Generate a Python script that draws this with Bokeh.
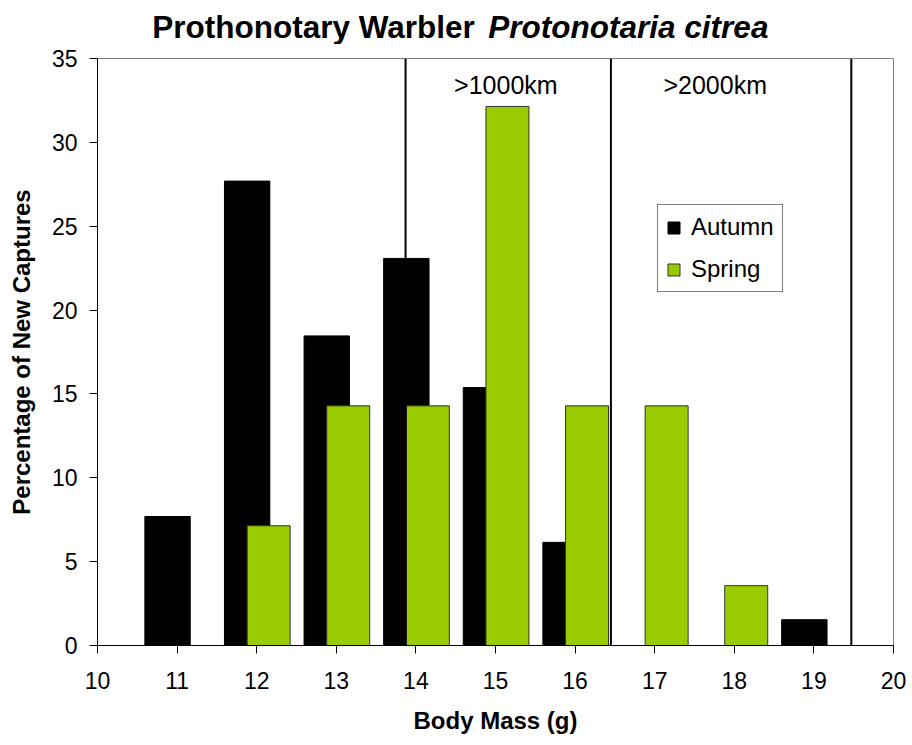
from bokeh.plotting import figure
from bokeh.layouts import column
from bokeh.models import ColumnDataSource, FixedTicker, Legend, LegendItem
from bokeh.transform import dodge
from bokeh.core.properties import value
from bokeh.embed import file_html
from bokeh.resources import INLINE

# ---- data ----
autumn_mass = [11, 12, 13, 14, 15, 16, 17, 18, 19]
autumn_pct = [7.69, 27.69, 18.46, 23.08, 15.38, 6.15, 0.0, 0.0, 1.54]
spring_mass = [12, 13, 14, 15, 16, 17, 18]
spring_pct = [7.14, 14.29, 14.29, 32.14, 14.29, 14.29, 3.57]
zone_bounds = [13.87, 16.45, 19.47]
zone_labels = [">1000km", ">2000km"]
zone_label_x = [15.13, 17.76]
zone_label_y = [33.4, 33.4]
x_ticks = [10, 11, 12, 13, 14, 15, 16, 17, 18, 19, 20]
y_ticks = [0, 5, 10, 15, 20, 25, 30, 35]
title_plain = "Prothonotary Warbler"
title_italic = "Protonotaria citrea"

FONT = "Liberation Sans"
GREEN = "#99CC00"
W = 906
LEFT, RIGHT = 97, 13
STRIP_H = 44

# ---- title strip (two font styles side by side) ----
t = figure(width=W, height=STRIP_H, x_range=(10, 20), y_range=(0, STRIP_H), title=None,
           output_backend="svg", toolbar_location=None,
           x_axis_type=None, y_axis_type=None,
           min_border_left=LEFT, min_border_right=RIGHT, min_border_top=0, min_border_bottom=0)
t.xgrid.visible = False
t.ygrid.visible = False
t.outline_line_color = None
t.text(x=[14.74], y=[18], text=[title_plain], text_align="right", text_baseline="alphabetic",
       text_font=value(FONT), text_font_size="31.5px", text_font_style="bold", text_color="black")
t.text(x=[14.91], y=[18], text=[title_italic], text_align="left", text_baseline="alphabetic",
       text_font=value(FONT), text_font_size="31.5px", text_font_style="bold italic", text_color="black")

# ---- main chart ----
p = figure(width=W, height=696, x_range=(10, 20), y_range=(0, 35),
           output_backend="svg", toolbar_location=None,
           min_border_left=LEFT, min_border_right=RIGHT, min_border_top=58 - STRIP_H, min_border_bottom=95)
p.xgrid.visible = False
p.ygrid.visible = False
p.outline_line_color = "#808080"
p.outline_line_width = 1
p.background_fill_color = "white"

a_src = ColumnDataSource(dict(x=autumn_mass, top=autumn_pct))
s_src = ColumnDataSource(dict(x=spring_mass, top=spring_pct))

ra = p.vbar(x=dodge("x", -0.12, range=p.x_range), top="top", bottom=0, width=0.57,
            source=a_src, fill_color="black", line_color="black", line_width=1)
rs = p.vbar(x=dodge("x", 0.15, range=p.x_range), top="top", bottom=0, width=0.54,
            source=s_src, fill_color=GREEN, line_color="#333333", line_width=1)

z_src = ColumnDataSource(dict(x=zone_bounds, y0=[0] * len(zone_bounds), y1=[35] * len(zone_bounds)))
p.segment(x0="x", x1="x", y0="y0", y1="y1", source=z_src, line_color="black", line_width=2)

l_src = ColumnDataSource(dict(x=zone_label_x, y=zone_label_y, t=zone_labels))
p.text(x="x", y="y", text="t", source=l_src, text_align="center", text_baseline="alphabetic",
       text_font=value(FONT), text_font_size="25px", text_color="black")

for ax in (p.xaxis[0], p.yaxis[0]):
    ax.axis_line_color = "black"
    ax.axis_line_width = 1
    ax.major_tick_line_color = "black"
    ax.major_tick_out = 8
    ax.major_tick_in = 0
    ax.minor_tick_line_color = None
    ax.major_label_text_font = FONT
    ax.major_label_text_font_size = "23px"
    ax.major_label_text_color = "black"
    ax.axis_label_text_font = FONT
    ax.axis_label_text_font_size = "24px"
    ax.axis_label_text_font_style = "bold"
    ax.axis_label_text_color = "black"

p.xaxis.ticker = FixedTicker(ticks=x_ticks)
p.yaxis.ticker = FixedTicker(ticks=y_ticks)
p.xaxis.axis_label = "Body Mass (g)"
p.yaxis.axis_label = "Percentage of New Captures"
p.xaxis.major_label_standoff = 18
p.yaxis.major_label_standoff = 12
p.xaxis.axis_label_standoff = 15
p.yaxis.axis_label_standoff = 14

legend = Legend(items=[LegendItem(label="Autumn", renderers=[ra]),
                       LegendItem(label="Spring", renderers=[rs])],
                location=(560, 353))
legend.label_text_font = FONT
legend.label_text_font_size = "24px"
legend.label_text_color = "black"
legend.glyph_width = 15
legend.glyph_height = 15
legend.label_standoff = 10
legend.padding = 8
legend.spacing = 14
legend.margin = 0
legend.border_line_color = "black"
legend.border_line_width = 1
legend.background_fill_color = "white"
legend.background_fill_alpha = 1
p.add_layout(legend, "center")

layout = column(t, p, spacing=0)
open("out.html", "w").write(file_html(layout, INLINE))
